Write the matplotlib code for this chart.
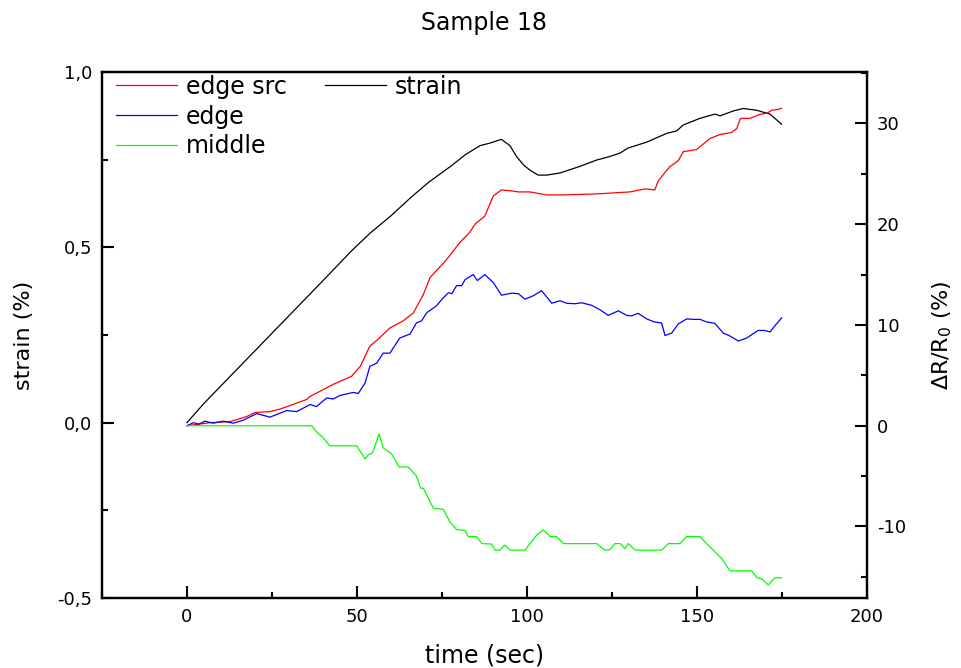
import matplotlib
matplotlib.use("Agg")
import matplotlib.pyplot as plt
from matplotlib.lines import Line2D
from matplotlib.ticker import MultipleLocator, FuncFormatter

plt.rcParams['font.family'] = ['DejaVu Sans']
plt.rcParams['axes.unicode_minus'] = False
plt.rcParams['xtick.direction'] = 'in'
plt.rcParams['ytick.direction'] = 'in'
plt.rcParams['xtick.major.size'] = 8.5
plt.rcParams['ytick.major.size'] = 8.5
plt.rcParams['xtick.minor.size'] = 4.5
plt.rcParams['ytick.minor.size'] = 4.5
plt.rcParams['xtick.major.width'] = 1.5
plt.rcParams['ytick.major.width'] = 1.5
plt.rcParams['xtick.minor.width'] = 1.5
plt.rcParams['ytick.minor.width'] = 1.5

# strain (left axis)
t_strain = [0, 5, 10, 20, 30, 40, 48.4, 53.8, 60, 65.6, 71, 77.4, 82, 86.2, 89, 92.5, 95, 97, 99, 100.9,
            103.3, 105.8, 109.7, 115.6, 120.5, 124, 127.4, 129.7, 135.2, 141.1, 144, 146, 150.9, 155.3,
            156.8, 160.7, 163.6, 167.5, 171.5, 174.9]
strain = [0.0, 0.055, 0.105, 0.205, 0.305, 0.405, 0.49, 0.54, 0.59, 0.64, 0.685, 0.73, 0.765, 0.79, 0.797,
          0.808, 0.79, 0.758, 0.735, 0.72, 0.706, 0.706, 0.712, 0.731, 0.749, 0.758, 0.769, 0.783, 0.80,
          0.825, 0.832, 0.849, 0.868, 0.88, 0.875, 0.889, 0.896, 0.891, 0.88, 0.851]

# dR/R0 (right axis)
t_red = [0, 6.8, 12.6, 17.5, 20, 24.4, 27.4, 35.2, 36.2, 43, 48.4, 51, 53.8, 56.3, 59.7, 63.6, 66.6, 69.5,
         71.5, 76.4, 80.3, 83.2, 84.7, 87.6, 90.1, 92.5, 95.5, 97.5, 100.9, 105.8, 110, 120.5, 130.3, 134.7,
         137.6, 138.6, 142, 144.5, 146, 149.9, 153.8, 156.8, 160.2, 161.7, 162.8, 165.6, 168.5, 170.5, 172,
         173.9, 174.9]
edge_src = [0, 0.3, 0.4, 0.9, 1.3, 1.4, 1.65, 2.6, 2.9, 4.1, 4.9, 5.9, 7.9, 8.6, 9.7, 10.4, 11.2, 13.0,
            14.7, 16.5, 18.2, 19.2, 20.0, 20.8, 22.8, 23.4, 23.3, 23.2, 23.2, 22.9, 22.9, 23.0, 23.2, 23.5,
            23.4, 24.3, 25.7, 26.3, 27.2, 27.4, 28.5, 28.9, 29.1, 29.5, 30.5, 30.5, 30.9, 31.0, 31.3, 31.4, 31.5]

t_blue = [0, 1.9, 3.5, 5.3, 7.7, 10.7, 13.6, 16.6, 20.5, 24.4, 29.3, 32.3, 36.2, 38.1, 41.1, 43, 45, 48.9,
          50.4, 52.4, 53.8, 55.8, 57.7, 59.7, 62.6, 65.6, 67.5, 69, 70.5, 73.4, 75, 76.9, 77.9, 79.3, 80.8,
          81.8, 84.2, 85.4, 87.6, 90.1, 92.5, 95.5, 97.5, 99.4, 101.9, 104.3, 107.3, 109.7, 111.7, 114.1,
          116.1, 119, 121.5, 123.9, 126.9, 129.3, 130.8, 132.7, 135.2, 137.4, 139.6, 140.6, 142.6, 144.5,
          147, 148.9, 150.9, 152.8, 155.3, 157.7, 159.7, 162.2, 164.6, 168, 170, 171.5, 173, 174.9]
edge = [0, 0.3, 0.15, 0.45, 0.25, 0.45, 0.25, 0.55, 1.2, 0.85, 1.5, 1.4, 2.1, 1.9, 2.75, 2.65, 3.0, 3.3,
        3.2, 4.25, 5.9, 6.2, 7.2, 7.2, 8.7, 9.1, 10.2, 10.4, 11.2, 11.9, 12.55, 13.2, 13.1, 13.9, 13.9,
        14.5, 15.0, 14.4, 15.0, 14.2, 12.95, 13.15, 13.1, 12.55, 12.9, 13.4, 12.15, 12.4, 12.15, 12.1,
        12.2, 11.95, 11.5, 10.95, 11.4, 10.95, 10.9, 11.15, 10.6, 10.3, 10.2, 8.95, 9.2, 10.1,
        10.6, 10.55, 10.55, 10.3, 10.15, 9.2, 8.9, 8.4, 8.7, 9.45, 9.45, 9.3, 9.95, 10.7]

t_green = [0, 36.7, 38.1, 40.1, 42, 49.9, 52.4, 53.3, 54.6, 56.5, 57.7, 60.2, 62.4, 65.1, 67.5, 68.7, 69.5,
           72.5, 75.4, 77.4, 79.3, 81.8, 82.7, 85.2, 86.7, 89.6, 90.6, 92, 93.5, 95, 99.4, 100.9, 102.9,
           104.8, 106.8, 108.7, 110.7, 120.5, 122.9, 124.4, 125.9, 127.4, 128.8, 129.8, 131.8, 139.6,
           141.6, 145, 147, 150.9, 152.8, 154.8, 157.3, 159.7, 166.1, 167.7, 169, 171, 172.9, 174.9]
middle = [0, 0, -0.6, -1.2, -2.0, -2.0, -3.3, -2.9, -2.7, -0.8, -2.2, -2.8, -4.1, -4.1, -5.0, -6.2, -6.2,
          -8.2, -8.3, -9.6, -10.3, -10.4, -11.0, -11.0, -11.7, -11.75, -12.35, -12.35, -11.85, -12.35,
          -12.35, -11.7, -10.85, -10.35, -11.0, -11.0, -11.7, -11.7, -12.35, -12.3, -11.7, -11.7, -12.2,
          -11.7, -12.35, -12.35, -11.7, -11.7, -11.0, -11.0, -11.7, -12.35, -13.2, -14.4, -14.4, -15.1,
          -15.2, -15.8, -15.1, -15.1]

fig = plt.figure(figsize=(9.62, 6.68), dpi=100)
ax = fig.add_axes([0.106, 0.1048, 0.7952, 0.7874])
ax2 = ax.twinx()

lw = 0.9
l_strain, = ax.plot(t_strain, strain, color='black', lw=lw, label='strain')
l_red, = ax2.plot(t_red, edge_src, color='#ff0000', lw=lw, label='edge src')
l_blue, = ax2.plot(t_blue, edge, color='#0000ff', lw=lw, label='edge')
l_green, = ax2.plot(t_green, middle, color='#00ff00', lw=lw, label='middle')

ax.set_xlim(-25, 200)
ax.set_ylim(-0.5, 1.0)
ax2.set_ylim(-17.1, 35.1)

ax.xaxis.set_major_locator(MultipleLocator(50))
ax.xaxis.set_minor_locator(MultipleLocator(25))
ax.yaxis.set_major_locator(MultipleLocator(0.5))
ax.yaxis.set_minor_locator(MultipleLocator(0.25))
ax.yaxis.set_major_formatter(FuncFormatter(lambda v, p: ('%.1f' % v).replace('.', ',')))
ax2.yaxis.set_major_locator(MultipleLocator(10))
ax2.yaxis.set_minor_locator(MultipleLocator(5))

for a in (ax, ax2):
    a.tick_params(which='major', labelsize=13, pad=7)
    for s in a.spines.values():
        s.set_linewidth(1.6)
ax.tick_params(which='both', top=False, right=False)
ax2.tick_params(which='both', left=False, top=False)

ax.set_xlabel('time (sec)', fontsize=17, labelpad=13)
ax.set_ylabel('strain (%)', fontsize=16, labelpad=17)
ax2.set_ylabel('ΔR/R$_0$ (%)', fontsize=16, labelpad=18)
ax.set_title('Sample 18', fontsize=17, pad=30)

blank = Line2D([], [], color='none')
leg = ax2.legend([l_red, l_blue, l_green, l_strain, blank, blank],
                 ['edge src', 'edge', 'middle', 'strain', '', ''],
                 ncol=2, loc='upper left', bbox_to_anchor=(0.012, 1.004), frameon=False,
                 fontsize=17, handlelength=2.6, handletextpad=0.37, columnspacing=1.6,
                 labelspacing=0.25, borderpad=0.2, borderaxespad=0)

fig.savefig('out.png', dpi=100)
